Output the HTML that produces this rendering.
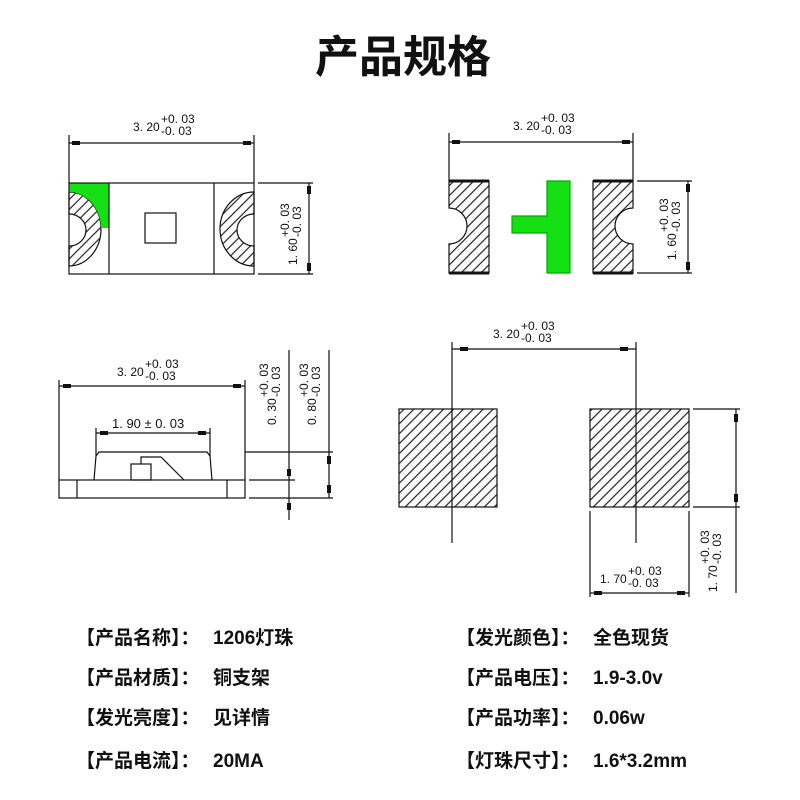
<!DOCTYPE html>
<html><head><meta charset="utf-8"><style>
html,body{margin:0;padding:0;background:#fff;}
svg{display:block;}
.d{font-family:"Liberation Sans",sans-serif;font-size:12px;fill:#111;}
.t{font-family:"Liberation Sans","Noto Sans CJK SC",sans-serif;font-weight:bold;fill:#111;}
</style></head><body>
<svg width="800" height="800" viewBox="0 0 800 800" xmlns="http://www.w3.org/2000/svg">
<defs>
<pattern id="h" width="7" height="7" patternUnits="userSpaceOnUse" patternTransform="rotate(45)">
<rect width="7" height="7" fill="#fff"/><line x1="1" y1="0" x2="1" y2="7" stroke="#222" stroke-width="1.2"/>
</pattern>
</defs>
<g stroke="#111" stroke-width="1.2" fill="none">
<!-- TL -->
<line x1="69" y1="135" x2="69" y2="183"/><line x1="254" y1="135" x2="254" y2="183"/>
<line x1="69" y1="143" x2="254" y2="143"/>
<path d="M69 192 A32 37 0 0 1 69 266 L69 246 A17 16 0 0 0 69 214 Z" fill="url(#h)"/>
<path d="M254 192 A34 37 0 0 0 254 266 L254 246 A17 16 0 0 1 254 214 Z" fill="url(#h)"/>
<path d="M69 183 H109 V228 H101 A32 37 0 0 0 69 192 Z" fill="#14e014" stroke="none"/>
<rect x="69" y="183" width="185" height="91"/>
<line x1="109" y1="183" x2="109" y2="274"/><line x1="214" y1="183" x2="214" y2="274"/>
<rect x="145" y="213" width="31" height="30"/>
<line x1="258" y1="183" x2="313" y2="183"/><line x1="258" y1="274" x2="313" y2="274"/>
<line x1="309" y1="183" x2="309" y2="274"/>
<!-- TR -->
<line x1="449" y1="133" x2="449" y2="181"/><line x1="633" y1="133" x2="633" y2="181"/>
<line x1="449" y1="142" x2="633" y2="142"/>
<path d="M449 181 H489 V273 H449 V244 A18 18 0 0 0 449 208 Z" fill="url(#h)"/>
<path d="M593 181 H633 V208 A18 18 0 0 0 633 244 V273 H593 Z" fill="url(#h)"/>
<line x1="449" y1="181" x2="489" y2="181" stroke-width="3"/><line x1="449" y1="273" x2="489" y2="273" stroke-width="3"/>
<line x1="593" y1="181" x2="633" y2="181" stroke-width="3"/><line x1="593" y1="273" x2="633" y2="273" stroke-width="3"/>
<path d="M547 181 H570 V273 H547 V233 H512 V216 H547 Z" fill="#14e014" stroke="#0a0"/>
<line x1="637" y1="181" x2="692" y2="181"/><line x1="637" y1="273" x2="692" y2="273"/>
<line x1="688" y1="181" x2="688" y2="273"/>
<!-- BL -->
<line x1="59" y1="380" x2="59" y2="480"/><line x1="245" y1="380" x2="245" y2="480"/>
<line x1="59" y1="386" x2="245" y2="386"/>
<rect x="59" y="480" width="186" height="18"/>
<line x1="77" y1="480" x2="77" y2="498"/><line x1="227" y1="480" x2="227" y2="498"/>
<path d="M94 480 L96 456 L99 452 H207 L210 456 L212 480"/>
<line x1="96" y1="428" x2="96" y2="456"/><line x1="210" y1="428" x2="210" y2="456"/>
<line x1="96" y1="433" x2="210" y2="433"/>
<rect x="131" y="464" width="20" height="16"/>
<path d="M141 464 V457 H161 L184 480"/>
<line x1="289" y1="350" x2="289" y2="520"/><line x1="329" y1="350" x2="329" y2="498"/>
<line x1="245" y1="452" x2="333" y2="452"/><line x1="249" y1="480" x2="295" y2="480"/><line x1="249" y1="498" x2="333" y2="498"/>
<!-- BR -->
<rect x="399" y="409" width="98" height="98" fill="url(#h)"/>
<rect x="590" y="409" width="99" height="98" fill="url(#h)"/>
<line x1="452" y1="342" x2="452" y2="543"/><line x1="636" y1="342" x2="636" y2="543"/>
<line x1="452" y1="349" x2="636" y2="349"/>
<line x1="693" y1="409" x2="740" y2="409"/><line x1="693" y1="507" x2="740" y2="507"/>
<line x1="736" y1="409" x2="736" y2="593"/>
<line x1="590" y1="511" x2="590" y2="597"/><line x1="689" y1="511" x2="689" y2="597"/>
<line x1="590" y1="593" x2="689" y2="593"/>
</g>
<g fill="#111">
<rect x="72" y="141" width="8" height="4"/><rect x="243" y="141" width="8" height="4"/>
<rect x="307" y="186" width="4" height="8"/><rect x="307" y="263" width="4" height="8"/>
<rect x="452" y="140" width="8" height="4"/><rect x="622" y="140" width="8" height="4"/>
<rect x="686" y="184" width="4" height="8"/><rect x="686" y="262" width="4" height="8"/>
<rect x="63" y="384" width="8" height="4"/><rect x="233" y="384" width="8" height="4"/>
<rect x="100" y="431" width="8" height="4"/><rect x="198" y="431" width="8" height="4"/>
<rect x="287" y="469" width="4" height="7"/><rect x="287" y="503" width="4" height="7"/>
<rect x="327" y="456" width="4" height="8"/><rect x="327" y="485" width="4" height="8"/>
<rect x="460" y="347" width="8" height="4"/><rect x="620" y="347" width="8" height="4"/>
<rect x="734" y="414" width="4" height="8"/><rect x="734" y="494" width="4" height="8"/>
<rect x="594" y="591" width="8" height="4"/><rect x="677" y="591" width="8" height="4"/>
</g>
<g class="d">
<g transform="translate(133,131)"><text>3. 20</text><text x="28" y="-8">+0. 03</text><text x="28" y="4">-0. 03</text></g>
<g transform="translate(513,130)"><text>3. 20</text><text x="28" y="-8">+0. 03</text><text x="28" y="4">-0. 03</text></g>
<g transform="translate(117,376)"><text>3. 20</text><text x="28" y="-8">+0. 03</text><text x="28" y="4">-0. 03</text></g>
<g transform="translate(493,338)"><text>3. 20</text><text x="28" y="-8">+0. 03</text><text x="28" y="4">-0. 03</text></g>
<g transform="translate(600,583)"><text>1. 70</text><text x="28" y="-8">+0. 03</text><text x="28" y="4">-0. 03</text></g>
<text x="112" y="428" font-size="13">1. 90 ± 0. 03</text>
<g transform="translate(297,265) rotate(-90)"><text>1. 60</text><text x="28" y="-8">+0. 03</text><text x="28" y="4">-0. 03</text></g>
<g transform="translate(676,260) rotate(-90)"><text>1. 60</text><text x="28" y="-8">+0. 03</text><text x="28" y="4">-0. 03</text></g>
<g transform="translate(276,425) rotate(-90)"><text>0. 30</text><text x="28" y="-8">+0. 03</text><text x="28" y="4">-0. 03</text></g>
<g transform="translate(316,425) rotate(-90)"><text>0. 80</text><text x="28" y="-8">+0. 03</text><text x="28" y="4">-0. 03</text></g>
<g transform="translate(717,592) rotate(-90)"><text>1. 70</text><text x="28" y="-8">+0. 03</text><text x="28" y="4">-0. 03</text></g>
</g>
<text class="t" x="403" y="72" font-size="44" text-anchor="middle">产品规格</text>
<g class="t" font-size="19">
<text x="76" y="644">【产品名称】：</text><text x="213" y="644">1206灯珠</text>
<text x="76" y="684">【产品材质】：</text><text x="213" y="684">铜支架</text>
<text x="76" y="724">【发光亮度】：</text><text x="213" y="724">见详情</text>
<text x="76" y="767">【产品电流】：</text><text x="213" y="767">20MA</text>
<text x="456" y="644">【发光颜色】：</text><text x="593" y="644">全色现货</text>
<text x="456" y="684">【产品电压】：</text><text x="593" y="684">1.9-3.0v</text>
<text x="456" y="724">【产品功率】：</text><text x="593" y="724">0.06w</text>
<text x="456" y="767">【灯珠尺寸】：</text><text x="593" y="767">1.6*3.2mm</text>
</g>
</svg>
</body></html>
